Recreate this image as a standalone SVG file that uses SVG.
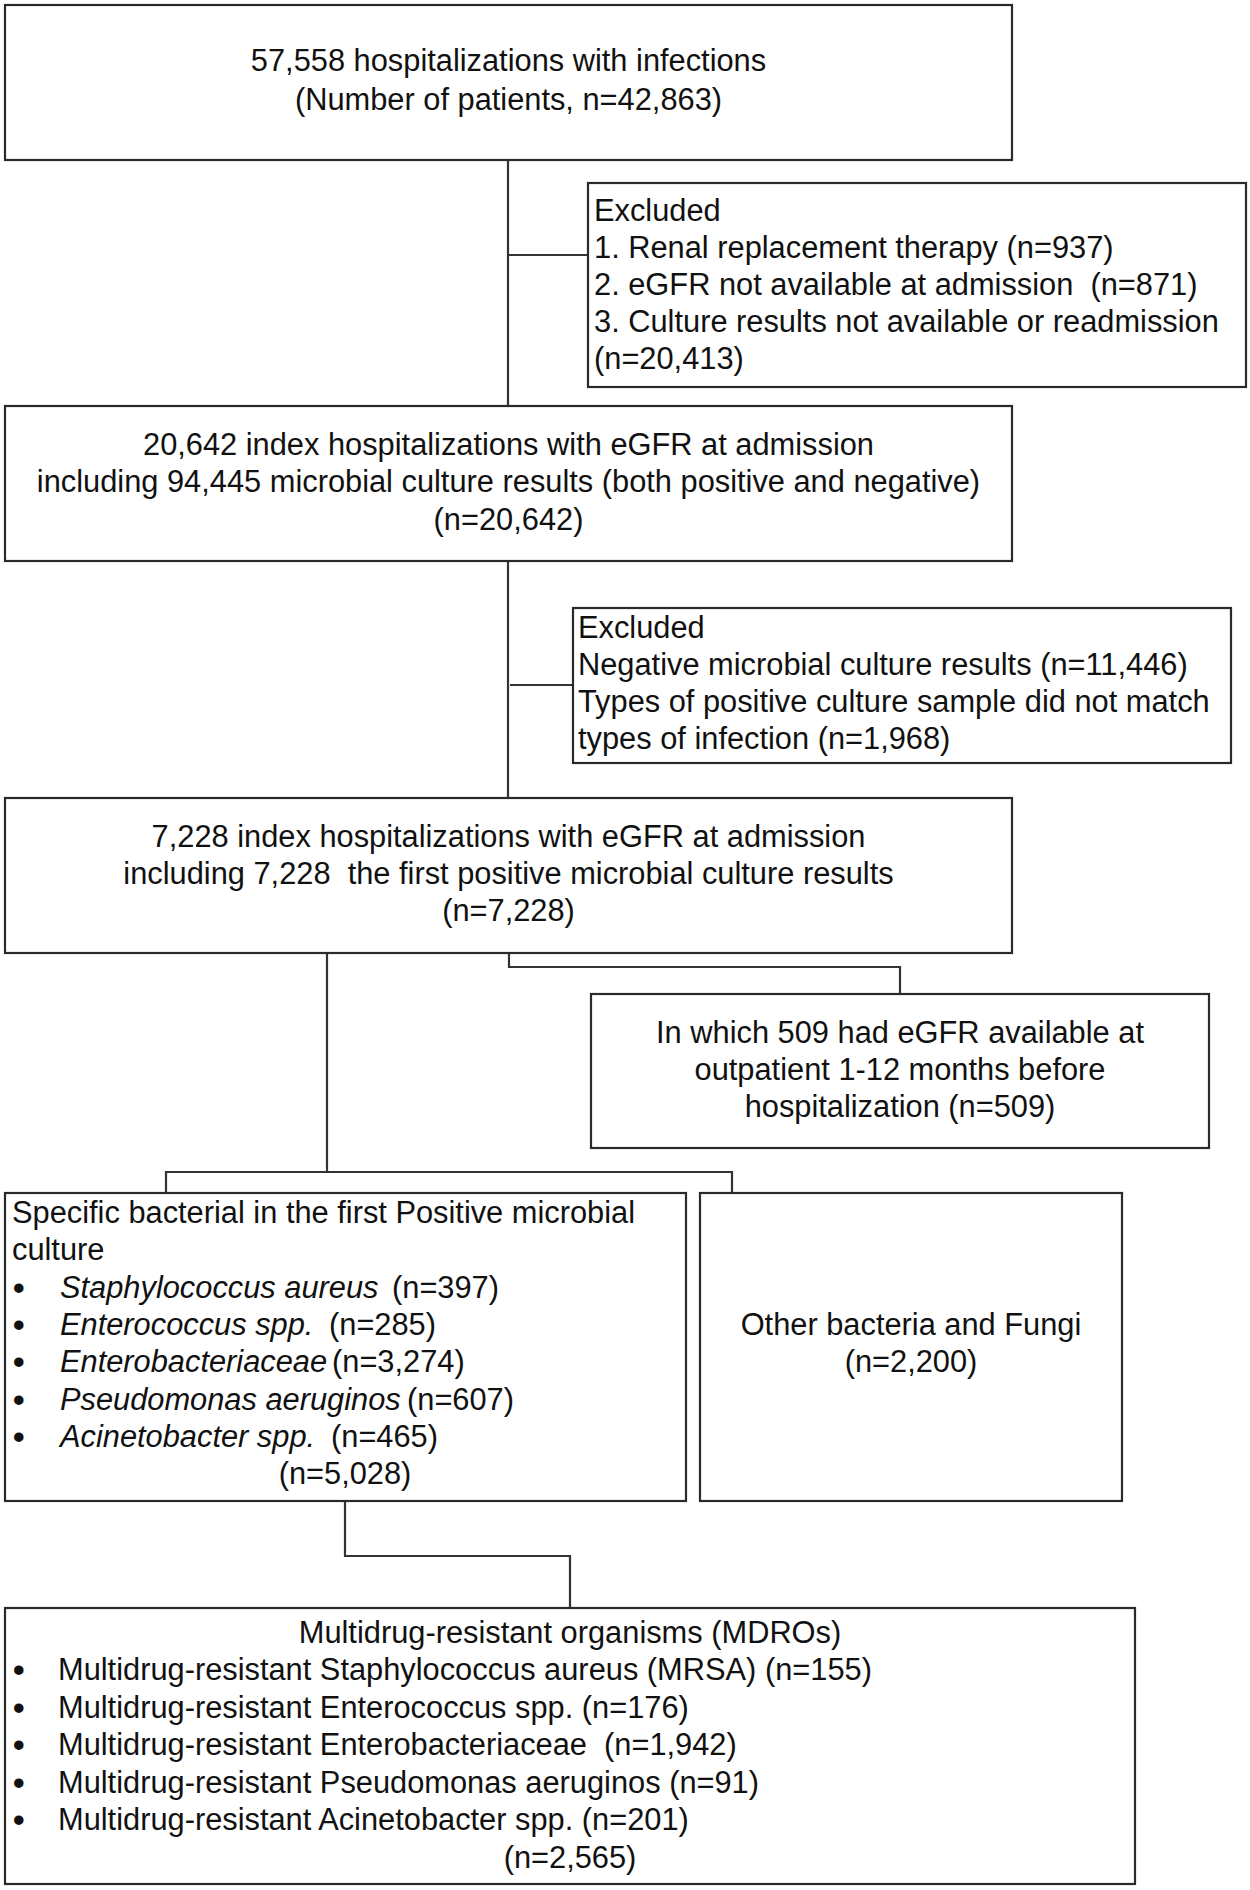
<svg xmlns="http://www.w3.org/2000/svg" width="1250" height="1890" viewBox="0 0 1250 1890">
<style>
.box{fill:#fff;stroke:#2a2a2a;stroke-width:2.2}
.t{font-family:"Liberation Sans",Arial,sans-serif;font-size:30.8px;fill:#111;white-space:pre}
.c{text-anchor:middle}
.i{font-style:italic}
.b{font-family:"Liberation Sans",Arial,sans-serif;font-size:33px;font-weight:bold;fill:#111}
.con{fill:none;stroke:#333;stroke-width:2.2}
</style>
<rect width="1250" height="1890" fill="#fff"/>
<g id="connectors">
<path class="con" d="M508 160V406"/>
<path class="con" d="M508 255H588"/>
<path class="con" d="M508 561V798"/>
<path class="con" d="M510 685H573"/>
<path class="con" d="M509 953V967H900V994"/>
<path class="con" d="M327 953V1172"/>
<path class="con" d="M166 1193V1172H732V1193"/>
<path class="con" d="M345 1501V1556H570V1608"/>
</g>
<g id="n1">
<rect class="box" x="5" y="5" width="1007" height="155"/>
<text class="t c" x="508.5" y="71">57,558 hospitalizations with infections</text>
<text class="t c" x="508.5" y="110">(Number of patients, n=42,863)</text>
</g>
<g id="ex1">
<rect class="box" x="588" y="183" width="658" height="204"/>
<text class="t" x="594" y="221">Excluded</text>
<text class="t" x="594" y="258">1. Renal replacement therapy (n=937)</text>
<text class="t" x="594" y="295">2. eGFR not available at admission  (n=871)</text>
<text class="t" x="594" y="332">3. Culture results not available or readmission</text>
<text class="t" x="594" y="369">(n=20,413)</text>
</g>
<g id="n2">
<rect class="box" x="5" y="406" width="1007" height="155"/>
<text class="t c" x="508.5" y="455">20,642 index hospitalizations with eGFR at admission</text>
<text class="t c" x="508.5" y="492">including 94,445 microbial culture results (both positive and negative)</text>
<text class="t c" x="508.5" y="530">(n=20,642)</text>
</g>
<g id="ex2">
<rect class="box" x="573" y="608" width="658" height="155"/>
<text class="t" x="578" y="638">Excluded</text>
<text class="t" x="578" y="675">Negative microbial culture results (n=11,446)</text>
<text class="t" x="578" y="712">Types of positive culture sample did not match</text>
<text class="t" x="578" y="749">types of infection (n=1,968)</text>
</g>
<g id="n3">
<rect class="box" x="5" y="798" width="1007" height="155"/>
<text class="t c" x="508.5" y="847">7,228 index hospitalizations with eGFR at admission</text>
<text class="t c" x="508.5" y="884">including 7,228  the first positive microbial culture results</text>
<text class="t c" x="508.5" y="921">(n=7,228)</text>
</g>
<g id="n4">
<rect class="box" x="591" y="994" width="618" height="154"/>
<text class="t c" x="900" y="1043">In which 509 had eGFR available at</text>
<text class="t c" x="900" y="1080">outpatient 1-12 months before</text>
<text class="t c" x="900" y="1117">hospitalization (n=509)</text>
</g>
<g id="n5">
<rect class="box" x="5" y="1193" width="681" height="308"/>
<text class="t" x="12" y="1223">Specific bacterial in the first Positive microbial</text>
<text class="t" x="12" y="1260">culture</text>
<text class="b" x="13" y="1299">•</text>
<text class="t" y="1298"><tspan class="i" x="60">Staphylococcus aureus</tspan><tspan x="392">(n=397)</tspan></text>
<text class="b" x="13" y="1336">•</text>
<text class="t" y="1335"><tspan class="i" x="60">Enterococcus spp.</tspan><tspan x="329">(n=285)</tspan></text>
<text class="b" x="13" y="1373">•</text>
<text class="t" y="1372"><tspan class="i" x="60">Enterobacteriaceae</tspan><tspan x="332">(n=3,274)</tspan></text>
<text class="b" x="13" y="1411">•</text>
<text class="t" y="1410"><tspan class="i" x="60">Pseudomonas aeruginos</tspan><tspan x="407">(n=607)</tspan></text>
<text class="b" x="13" y="1448">•</text>
<text class="t" y="1447"><tspan class="i" x="60">Acinetobacter spp.</tspan><tspan x="331">(n=465)</tspan></text>
<text class="t c" x="345" y="1484">(n=5,028)</text>
</g>
<g id="n6">
<rect class="box" x="700" y="1193" width="422" height="308"/>
<text class="t c" x="911" y="1335">Other bacteria and Fungi</text>
<text class="t c" x="911" y="1372">(n=2,200)</text>
</g>
<g id="n7">
<rect class="box" x="5" y="1608" width="1130" height="276"/>
<text class="t c" x="570" y="1643">Multidrug-resistant organisms (MDROs)</text>
<text class="b" x="13" y="1681">•</text>
<text class="t" x="58" y="1680">Multidrug-resistant Staphylococcus aureus (MRSA) (n=155)</text>
<text class="b" x="13" y="1719">•</text>
<text class="t" x="58" y="1718">Multidrug-resistant Enterococcus spp. (n=176)</text>
<text class="b" x="13" y="1756">•</text>
<text class="t" x="58" y="1755">Multidrug-resistant Enterobacteriaceae  (n=1,942)</text>
<text class="b" x="13" y="1794">•</text>
<text class="t" x="58" y="1793">Multidrug-resistant Pseudomonas aeruginos (n=91)</text>
<text class="b" x="13" y="1831">•</text>
<text class="t" x="58" y="1830">Multidrug-resistant Acinetobacter spp. (n=201)</text>
<text class="t c" x="570" y="1868">(n=2,565)</text>
</g>
</svg>
